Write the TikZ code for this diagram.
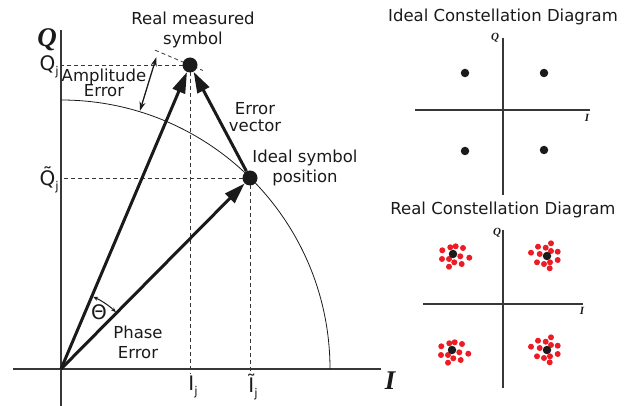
\documentclass[tikz,border=0pt]{standalone}
\usepackage{fontspec}
\setmainfont{DejaVu Sans}
\newfontfamily\axisfont{Liberation Serif}
\usetikzlibrary{arrows.meta, calc, positioning}
\definecolor{myink}{RGB}{26,26,26}
\definecolor{mygrey}{RGB}{55,55,55}
\definecolor{myred}{RGB}{237,28,36}
\tikzset{
  axis/.style={line width=2pt, color=mygrey},
  smallaxis/.style={line width=1.4pt, color=mygrey},
  vec/.style={-{Triangle[length=21pt, width=13pt]}, line width=3pt, color=myink},
  guide/.style={dash pattern=on 4pt off 3pt, line width=0.8pt, color=mygrey},
  amparrow/.style={{Stealth[length=9pt, width=6pt]}-{Stealth[length=9pt, width=6pt]}, line width=1.3pt, color=myink},
  phasearc/.style={{Stealth[length=5pt, width=4pt]}-{Stealth[length=5pt, width=4pt]}, line width=1pt, color=myink},
  bigdot/.style={circle, fill=myink, inner sep=0pt, minimum size=15pt},
  dot/.style={circle, fill=myink, inner sep=0pt, minimum size=8.5pt},
  reddot/.style={circle, fill=myred, inner sep=0pt, minimum size=6pt},
  lbl/.style={font=\fontsize{16.5}{20}\selectfont, align=center, text=myink},
  bigaxlbl/.style={font=\axisfont\bfseries\itshape\fontsize{27}{27}\selectfont, text=myink},
  smallaxlbl/.style={font=\axisfont\bfseries\itshape\fontsize{11}{11}\selectfont, text=myink},
  tick/.style={font=\fontsize{20}{20}\selectfont, text=myink, inner sep=1pt}
}
\newcommand{\jsub}{{\fontsize{12}{12}\selectfont\raisebox{-5pt}{j}}}

\begin{document}
\begin{tikzpicture}[x=1pt, y=-1pt]
  \useasboundingbox (0,0) rectangle (640,406);

  % Main I/Q plane
  \coordinate (O) at (61,369);
  \coordinate (R) at (190,65);
  \coordinate (S) at (250,178);
  \coordinate (qtop) at (61,30);
  \coordinate (qbot) at (61,406);
  \coordinate (ileft) at (13,369);
  \coordinate (iright) at (381,369);
  \draw[axis] (qtop) -- (qbot);
  \draw[axis] (ileft) -- (iright);
  \node[bigaxlbl] (qlbl) at (47,40) {Q};
  \node[bigaxlbl] (ilbl) at (390,381) {I};

  % Circle of the ideal amplitude
  \draw[line width=0.8pt, color=myink] ([yshift=269pt]O) arc[start angle=90, end angle=0, radius=269pt];

  % Projections
  \draw[guide] (R) -- (R -| O);
  \draw[guide] (S) -- (S -| O);
  \draw[guide] (R) -- ($(R |- O)+(0,5)$);
  \draw[guide] (S) -- ($(S |- O)+(0,5)$);
  \draw[guide] ($(R)!-38pt!90:(O)$) -- ($(R)!14pt!90:(O)$);

  \node[tick, anchor=east] (qj) at (60,67) {Q\jsub};
  \node[tick, anchor=east] (qtj) at (60,180) {\~{Q}\jsub};
  \node[tick] (ij) at (193,387) {I\jsub};
  \node[tick] (itj) at (253,387) {\~{I}\jsub};

  % Symbols
  \node[bigdot] (real) at (R) {};
  \node[bigdot] (ideal) at (S) {};

  % Vectors
  \draw[vec] (O) -- (real);
  \draw[vec] (O) -- (ideal);
  \draw[vec] (ideal) -- (real);

  % Amplitude and phase error
  \coordinate (amplow) at ($(O)+(73:270pt)$);
  \coordinate (amphigh) at ($(O)+(73:326pt)$);
  \draw[amparrow] (amplow) -- (amphigh);
  \draw[phasearc] ($(O)+(66:79pt)$) arc[start angle=66, end angle=46, radius=79pt];
  \node[lbl, font=\fontsize{20}{20}\selectfont] (theta) at ($(O)+(56:68pt)$) {Θ};

  \node[lbl] (realtxt) at (193,30) {Real measured\\symbol};
  \node[lbl, font=\fontsize{16.5}{15.5}\selectfont] (amptxt) at (104,83) {Amplitude\\Error};
  \node[lbl, font=\fontsize{16.5}{17.5}\selectfont] (errtxt) at (255,117) {Error\\vector};
  \node[lbl] (idealtxt) at (305,168) {Ideal symbol\\position};
  \node[lbl] (phasetxt) at (138,342) {Phase\\Error};

  % Ideal constellation
  \node[lbl] (idealtitle) at (503,17) {Ideal Constellation Diagram};
  \draw[smallaxis] (503,38) -- (503,195);
  \draw[smallaxis] (415,110) -- (590,110);
  \node[smallaxlbl] (iq) at (495,38) {Q};
  \node[smallaxlbl] (ii) at (587,118) {I};
  \node[dot] (i1) at (465,73) {};
  \node[dot] (i2) at (544,73) {};
  \node[dot] (i3) at (465,151) {};
  \node[dot] (i4) at (544,150) {};

  % Real constellation
  \node[lbl] (realtitle) at (503,210) {Real Constellation Diagram};
  \draw[smallaxis] (503,230) -- (503,388);
  \draw[smallaxis] (423,304) -- (583,304);
  \node[smallaxlbl] (rq) at (497,233) {Q};
  \node[smallaxlbl] (ri) at (582,311) {I};
  \foreach \cx/\cy [count=\c] in {453/254, 452/350} {
    \foreach \dx/\dy [count=\k] in {-10.7/-3.7, -2.7/-6.7, 2.7/-7.7, 10/-6, -11/5, -4/5,
                                    7.3/2.3, 16.3/3.7, 1.3/8.3, 8.7/10, -4/12.7}
      \node[reddot] (l\c-\k) at (\cx+\dx,\cy+\dy) {};
  }
  \foreach \cx/\cy [count=\c] in {547/256, 547/350} {
    \foreach \dx/\dy [count=\k] in {-9/-9.3, -1.3/-8.3, 4/-12.7, -16/-3.3, -7.3/-2, 4/-5,
                                    10.7/-4.3, -10/6.3, -3/8, 3/6.3, 10.7/4, 2.7/12.3}
      \node[reddot] (r\c-\k) at (\cx+\dx,\cy+\dy) {};
  }
  \node[dot] (r1) at (453,254) {};
  \node[dot] (r2) at (547,256) {};
  \node[dot] (r3) at (452,350) {};
  \node[dot] (r4) at (547,350) {};
\end{tikzpicture}
\end{document}
